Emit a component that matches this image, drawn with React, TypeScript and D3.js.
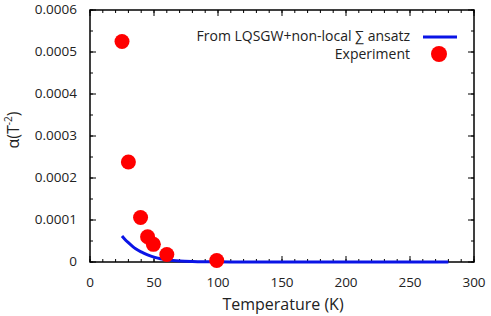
import React from "react";
import * as d3 from "d3";

const expT = [25, 30, 39.5, 45, 49.5, 60, 99];
const expAlpha = [0.000525, 0.000238, 0.000106, 0.00006, 0.000042, 0.000018, 0.0000035];

const theoryT = [25, 27, 30, 33, 36, 40, 45, 50, 55, 60, 65, 70, 80, 90, 100, 120, 150, 200, 250, 280];
const theoryAlpha = [6.2e-5, 5.5e-5, 4.6e-5, 3.8e-5, 3.1e-5, 2.4e-5, 1.7e-5, 1.15e-5, 7.8e-6, 5.2e-6, 3.6e-6, 2.5e-6, 1.3e-6, 7e-7, 4e-7, 2e-7, 1e-7, 5e-8, 3e-8, 2e-8];

const xTicks = [0, 50, 100, 150, 200, 250, 300];
const yTicks = [0, 0.0001, 0.0002, 0.0003, 0.0004, 0.0005, 0.0006];
const yTickLabels = ["0", "0.0001", "0.0002", "0.0003", "0.0004", "0.0005", "0.0006"];
const xMinor = d3.range(0, 301, 10);
const yMinor = d3.range(0, 0.00061, 0.00005);

const L = 90, R = 474, T = 10, B = 262;
const font = "'Open Sans', 'Noto Sans', sans-serif";

export default function App() {
  const x = d3.scaleLinear().domain([0, 300]).range([L, R]);
  const y = d3.scaleLinear().domain([0, 0.0006]).range([B, T]);
  const line = d3.line<number>().x((d, i) => x(theoryT[i])).y((d) => y(d)).curve(d3.curveMonotoneX);

  return (
    <svg width={491} height={316} style={{ position: "absolute", left: 0, top: 0 }} fontFamily={font}>
      <rect width={491} height={316} fill="#fff" />
      {xMinor.map((v) => (
        <g key={"xm" + v}>
          <line x1={x(v)} x2={x(v)} y1={B} y2={B - 3} stroke="#000" strokeWidth={1} />
          <line x1={x(v)} x2={x(v)} y1={T} y2={T + 3} stroke="#000" strokeWidth={1} />
        </g>
      ))}
      {yMinor.map((v, i) => (
        <g key={"ym" + i}>
          <line x1={L} x2={L + 3} y1={y(v)} y2={y(v)} stroke="#000" strokeWidth={1} />
          <line x1={R} x2={R - 3} y1={y(v)} y2={y(v)} stroke="#000" strokeWidth={1} />
        </g>
      ))}
      {xTicks.map((v) => (
        <g key={"x" + v}>
          <line x1={x(v)} x2={x(v)} y1={B} y2={B - 6} stroke="#000" strokeWidth={1} />
          <line x1={x(v)} x2={x(v)} y1={T} y2={T + 6} stroke="#000" strokeWidth={1} />
          <text x={x(v)} y={283} textAnchor="middle" dominantBaseline="middle" fontSize={13.5} fill="#222">{v}</text>
        </g>
      ))}
      {yTicks.map((v, i) => (
        <g key={"y" + i}>
          <line x1={L} x2={L + 6} y1={y(v)} y2={y(v)} stroke="#000" strokeWidth={1} />
          <line x1={R} x2={R - 6} y1={y(v)} y2={y(v)} stroke="#000" strokeWidth={1} />
          <text x={77} y={y(v)} textAnchor="end" dominantBaseline="middle" fontSize={13.5} fill="#222">{yTickLabels[i]}</text>
        </g>
      ))}
      <rect x={L} y={T} width={R - L} height={B - T} fill="none" stroke="#000" strokeWidth={1.5} />
      <path d={line(theoryAlpha) || ""} fill="none" stroke="#0a14e6" strokeWidth={3} />
      {expT.map((t, i) => (
        <circle key={"p" + i} cx={x(t)} cy={y(expAlpha[i])} r={7.5} fill="#ff0000" />
      ))}
      <text x={410} y={37} textAnchor="end" dominantBaseline="middle" fontSize={14} fill="#222">From LQSGW+non-local ∑ ansatz</text>
      <line x1={423} x2={457} y1={37} y2={37} stroke="#0a14e6" strokeWidth={3} />
      <text x={410} y={55} textAnchor="end" dominantBaseline="middle" fontSize={14} fill="#222">Experiment</text>
      <circle cx={439} cy={54} r={8} fill="#ff0000" />
      <text x={283} y={306} textAnchor="middle" dominantBaseline="middle" fontSize={16} fill="#222">Temperature (K)</text>
      <text transform="translate(15,130) rotate(-90)" textAnchor="middle" dominantBaseline="middle" fontSize={16} fill="#222">
        α(T<tspan fontSize={10} dy={-6}>-2</tspan><tspan dy={6}>)</tspan>
      </text>
    </svg>
  );
}
